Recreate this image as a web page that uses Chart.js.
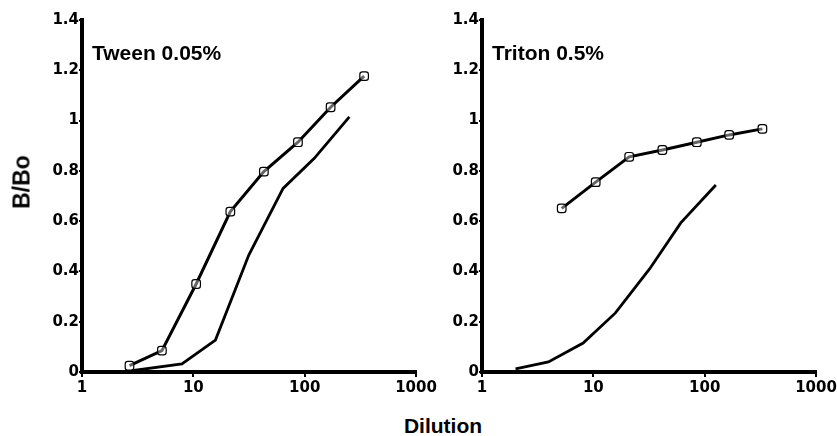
<!DOCTYPE html>
<html lang="en">
<head>
    <meta charset="UTF-8">
    <title>B/Bo vs Dilution</title>
    <script src="https://cdn.jsdelivr.net/npm/chart.js"></script>
    <style>
        body {
            margin: 0;
            background: #ffffff;
            overflow: hidden;
        }

        .wrap {
            position: relative;
            width: 837px;
            height: 436px;
            overflow: hidden;
            background: #ffffff;
        }

        canvas {
            position: absolute;
            top: 0;
        }

        .lbl {
            position: absolute;
            font-family: 'Liberation Sans', Arial, sans-serif;
            font-weight: bold;
            font-size: 21px;
            line-height: 21px;
            color: #000;
            white-space: nowrap;
        }
    </style>
</head>
<body>
<div class="wrap">
    <canvas id="tweenChart" width="450" height="400" style="left:0px"></canvas>
    <canvas id="tritonChart" width="450" height="400" style="left:420px"></canvas>

    <div class="lbl" style="left:92px; top:42px;">Tween 0.05%</div>
    <div class="lbl" style="left:492px; top:42px;">Triton 0.5%</div>
    <div class="lbl" style="left:443px; top:415px; transform:translateX(-50%);">Dilution</div>
    <div class="lbl" style="left:22px; top:182px; font-size:23px; transform:translate(-50%,-50%) rotate(-90deg);">B/Bo</div>
</div>

<script>
    // tick labels
    const xTicks = [1, 10, 100, 1000];
    const yTicks = [0, 0.2, 0.4, 0.6, 0.8, 1, 1.2, 1.4];

    // Tween 0.05% - with markers
    const tweenMarkDil = [2.67, 5.22, 10.6, 21.5, 43, 87, 171, 342];
    const tweenMarkVal = [0.025, 0.085, 0.35, 0.638, 0.797, 0.914, 1.053, 1.177];
    // Tween 0.05% - plain line
    const tweenLineDil = [2.8, 7.9, 15.8, 31.5, 64, 122, 252];
    const tweenLineVal = [0.005, 0.032, 0.127, 0.465, 0.73, 0.85, 1.015];

    // Triton 0.5% - with markers
    const tritonMarkDil = [5.2, 10.5, 21, 41.7, 85, 166, 330];
    const tritonMarkVal = [0.651, 0.755, 0.856, 0.883, 0.914, 0.943, 0.967];
    // Triton 0.5% - plain line
    const tritonLineDil = [2, 3.95, 8.1, 15.8, 32, 61, 126];
    const tritonLineVal = [0.012, 0.04, 0.115, 0.235, 0.41, 0.593, 0.744];

    function pts(xs, ys) {
        return xs.map((x, i) => ({ x: x, y: ys[i] }));
    }

    function makeChart(id, markDil, markVal, lineDil, lineVal, axisWidth, padRight) {
        const ctx = document.getElementById(id).getContext('2d');
        return new Chart(ctx, {
            type: 'line',
            data: {
                datasets: [{
                    data: pts(markDil, markVal),
                    borderColor: '#000',
                    borderWidth: 3,
                    pointStyle: 'rectRounded',
                    pointRadius: 5,
                    pointBorderWidth: 1.2,
                    pointBorderColor: '#000',
                    pointBackgroundColor: 'rgba(255,255,255,0.4)',
                    tension: 0
                }, {
                    data: pts(lineDil, lineVal),
                    borderColor: '#000',
                    borderWidth: 2.8,
                    pointRadius: 0,
                    tension: 0
                }]
            },
            options: {
                responsive: false,
                animation: false,
                events: [],
                layout: {
                    padding: { top: 20, right: padRight, bottom: 0, left: 0 }
                },
                scales: {
                    x: {
                        type: 'logarithmic',
                        min: 1,
                        max: 1000,
                        afterBuildTicks: (s) => { s.ticks = xTicks.map(v => ({ value: v })); },
                        afterFit: (s) => { s.height = 28; },
                        ticks: {
                            color: '#000',
                            font: { family: "'DejaVu Sans'", weight: 'bold', size: 15 },
                            padding: 2,
                            maxRotation: 0,
                            autoSkip: false,
                            callback: (v) => String(v)
                        },
                        grid: { display: true, drawOnChartArea: false, drawTicks: true, tickLength: 5, color: '#000', lineWidth: 2 },
                        border: { display: true, color: '#000', width: 4 }
                    },
                    y: {
                        min: 0,
                        max: 1.4,
                        afterBuildTicks: (s) => { s.ticks = yTicks.map(v => ({ value: v })); },
                        afterFit: (s) => { s.width = axisWidth; },
                        ticks: {
                            color: '#000',
                            font: { family: "'DejaVu Sans'", weight: 'bold', size: 15 },
                            padding: 0,
                            callback: (v) => String(v)
                        },
                        grid: { display: true, drawOnChartArea: false, drawTicks: true, tickLength: 3, color: '#000', lineWidth: 2 },
                        border: { display: true, color: '#000', width: 4 }
                    }
                },
                plugins: {
                    legend: { display: false },
                    title: { display: false },
                    tooltip: { enabled: false }
                }
            }
        });
    }

    makeChart('tweenChart', tweenMarkDil, tweenMarkVal, tweenLineDil, tweenLineVal, 82, 34);
    makeChart('tritonChart', tritonMarkDil, tritonMarkVal, tritonLineDil, tritonLineVal, 62, 54);
</script>
</body>
</html>
